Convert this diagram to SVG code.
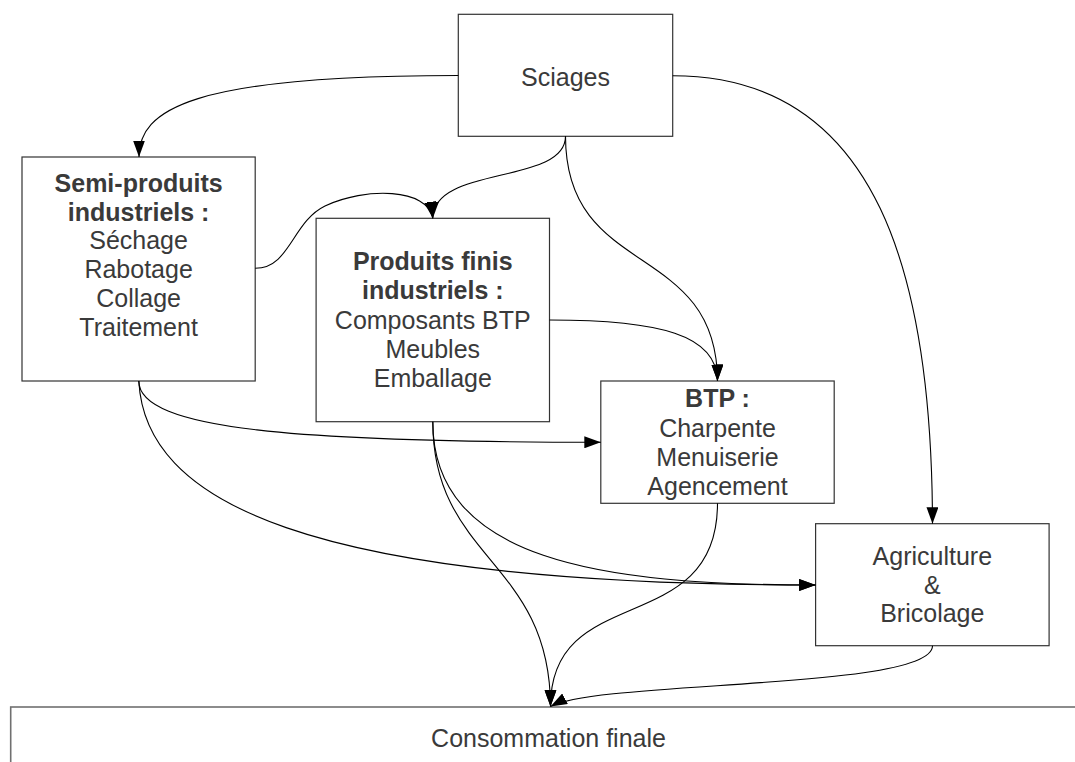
<svg xmlns="http://www.w3.org/2000/svg" width="1075" height="762" viewBox="0 0 1075 762">
<style>
.box{fill:#fff;stroke:#333;stroke-width:1.2}
.box2{fill:#fff;stroke:#707070;stroke-width:1.6}
.t{font-family:"Liberation Sans",Arial,sans-serif;font-size:25px;fill:#3a3a3a;text-anchor:middle}
.b{font-weight:bold}
.c{fill:none;stroke:#000;stroke-width:1.1;marker-end:url(#ah)}
</style>
<defs>
<marker id="ah" markerUnits="userSpaceOnUse" markerWidth="17" markerHeight="12" refX="16.5" refY="6" orient="auto">
<path d="M0,0 L16.5,6 L0,12 z" fill="#000"/>
</marker>
</defs>
<rect width="1075" height="762" fill="#fff"/>
<g id="consommation">
<rect class="box2" x="10.7" y="707" width="1080" height="80"/>
<text class="t" x="548.5" y="747">Consommation finale</text>
</g>
<g id="sciages">
<rect class="box" x="458.3" y="14.3" width="214.4" height="122"/>
<text class="t" x="565.5" y="86">Sciages</text>
</g>
<g id="semi">
<rect class="box" x="22" y="157" width="233.2" height="224"/>
<text class="t" x="138.6"><tspan class="b" x="138.6" y="192">Semi-produits</tspan><tspan class="b" x="138.6" y="220.7">industriels :</tspan><tspan x="138.6" y="249.4">Séchage</tspan><tspan x="138.6" y="278.1">Rabotage</tspan><tspan x="138.6" y="306.8">Collage</tspan><tspan x="138.6" y="335.5">Traitement</tspan></text>
</g>
<g id="finis">
<rect class="box" x="316.1" y="218.3" width="233.4" height="203.4"/>
<text class="t" x="432.8"><tspan class="b" x="432.8" y="270">Produits finis</tspan><tspan class="b" x="432.8" y="299">industriels :</tspan><tspan x="432.8" y="328.5">Composants BTP</tspan><tspan x="432.8" y="357.7">Meubles</tspan><tspan x="432.8" y="386.7">Emballage</tspan></text>
</g>
<g id="btp">
<rect class="box" x="600.8" y="381" width="233.4" height="122.3"/>
<text class="t" x="717.5"><tspan class="b" x="717.5" y="407">BTP :</tspan><tspan x="717.5" y="436.5">Charpente</tspan><tspan x="717.5" y="465.5">Menuiserie</tspan><tspan x="717.5" y="494.5">Agencement</tspan></text>
</g>
<g id="agriculture">
<rect class="box" x="815.6" y="523.7" width="233.5" height="122"/>
<text class="t" x="932.3"><tspan x="932.3" y="564.5">Agriculture</tspan><tspan x="932.3" y="593.5">&amp;</tspan><tspan x="932.3" y="622">Bricolage</tspan></text>
</g>
<g id="connectors">
<path class="c" d="M458.3,75.5 C190,75.5 139,110 139,157"/>
<path class="c" d="M565.5,136.3 C565.5,185 433,165 432.8,218.3"/>
<path class="c" d="M255.2,268.3 C290,268.3 292,222 325,206 C365,187 428,188 432.8,218.3"/>
<path class="c" d="M565.5,136.3 C565.5,280 717,240 717.5,381"/>
<path class="c" d="M549.5,320 C660,320 717,335 717.5,381"/>
<path class="c" d="M672.7,75.7 C880,75.7 932,280 932.5,523.7"/>
<path class="c" d="M138.8,381 C138.8,430 300,442 600.8,442.3"/>
<path class="c" d="M138.8,381 C145,500 300,585 815.6,585"/>
<path class="c" d="M432.8,421.7 C432.8,560 600,585 815.6,585"/>
<path class="c" d="M432.8,421.7 C432.8,560 550,560 550.5,706.5"/>
<path class="c" d="M717.5,503.3 C717.5,640 550.5,580 550.5,706.5"/>
<path class="c" d="M932.5,645.7 C932.5,690 600,680 550.5,706.5"/>
</g>
</svg>
